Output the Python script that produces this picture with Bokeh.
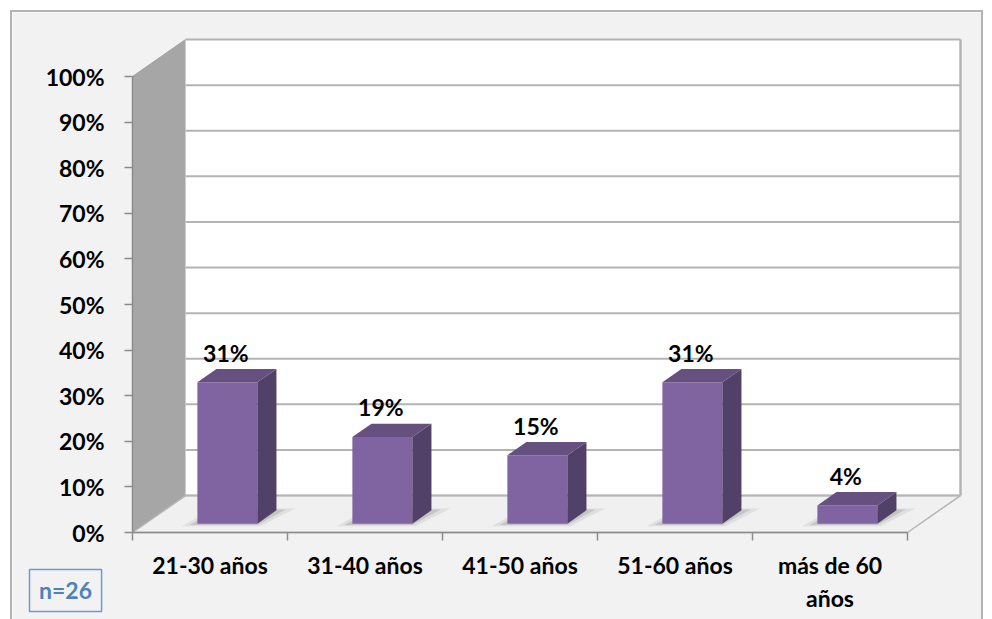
from bokeh.plotting import figure
from bokeh.models import FixedTicker, Range1d, ColumnDataSource
from bokeh.embed import file_html
from bokeh.resources import INLINE
from bokeh.core.properties import value

# ---- data -------------------------------------------------------------
categories = ["21-30 años", "31-40 años", "41-50 años", "51-60 años", "más de 60\naños"]
shares = [31, 19, 15, 31, 4]
y_ticks = [0, 10, 20, 30, 40, 50, 60, 70, 80, 90, 100]
y_tick_labels = ["0%", "10%", "20%", "30%", "40%", "50%", "60%", "70%", "80%", "90%", "100%"]
value_labels = ["31%", "19%", "15%", "31%", "4%"]
sample_note = "n=26"

# ---- 3D projection settings (data units) -------------------------------
DX = 0.342        # depth offset along x, in category units
DY = 8.1          # depth offset along y, in percent units
BAR_W = 0.387     # bar width, category units
BAR_C = 0.53      # bar centre within its category slot
F0, F1 = 0.24, 0.60  # bar front / back position within the depth

FONT = "Lato"
FS = "23px"
n = len(categories)

# canvas size and the data window it shows (155 px per category, 4.56 px per %)
W, H = 973, 609
X0 = -120 / 155
Y1 = 520 / 4.56

# the plotting area fills the whole canvas; axes sit at fixed data positions
p = figure(
    width=W, height=H,
    x_range=Range1d(X0, X0 + W / 155), y_range=Range1d(Y1 - H / 4.56, Y1),
    output_backend="svg", toolbar_location=None,
    min_border=0, min_border_left=0, min_border_right=0,
    min_border_top=0, min_border_bottom=0,
    background_fill_color="#f2f2f2", border_fill_color="#f2f2f2",
    outline_line_color=None,
)
p.styles = {
    "margin-left": "10px", "margin-top": "10px",
    "border-top": "2px solid #b4b4b4", "border-left": "2px solid #b4b4b4",
    "border-right": "2px solid #b4b4b4", "border-bottom": "none",
}
p.xgrid.visible = False
p.ygrid.visible = False

# ---- walls and floor --------------------------------------------------
p.patch([0, DX, DX, 0], [0, DY, 100 + DY, 100],
        fill_color="#a6a6a6", line_color="#a0a0a0", line_width=1)
p.quad(left=[DX], right=[n + DX], bottom=[DY], top=[100 + DY],
       fill_color="white", line_color=None)
p.patch([0, DX, n + DX, n], [0, DY, DY, 0],
        fill_color="#f0f0f0", line_color="#b4b4b4", line_width=1.5)
grid_src = ColumnDataSource(dict(
    x0=[DX] * len(y_ticks), x1=[n + DX] * len(y_ticks),
    y=[t + DY for t in y_ticks],
))
p.segment(x0="x0", y0="y", x1="x1", y1="y", source=grid_src,
          line_color="#b4b4b4", line_width=2)
p.segment(x0=[n + DX], y0=[DY], x1=[n + DX], y1=[100 + DY],
          line_color="#b4b4b4", line_width=2.5)

# ---- bars -------------------------------------------------------------
ddx = (F1 - F0) * DX
ddy = (F1 - F0) * DY
lefts, rights, bottoms, tops = [], [], [], []
top_xs, top_ys, side_xs, side_ys, sh_xs, sh_ys, sh2_xs, sh2_ys = [], [], [], [], [], [], [], []
label_x, label_y = [], []
for i, v in enumerate(shares):
    l = i + BAR_C - BAR_W / 2 + F0 * DX
    r = l + BAR_W
    b = F0 * DY
    t = b + v
    lefts.append(l); rights.append(r); bottoms.append(b); tops.append(t)
    top_xs.append([l, r, r + ddx, l + ddx]); top_ys.append([t, t, t + ddy, t + ddy])
    side_xs.append([r, r + ddx, r + ddx, r]); side_ys.append([b, b + ddy, t + ddy, t])
    # soft shadow on the floor
    sh_xs.append([l - 0.10, r + 0.02, r + ddx + 0.12, l + ddx - 0.02])
    sh_ys.append([b - 0.6, b - 0.6, b + ddy + 0.4, b + ddy + 0.4])
    sh2_xs.append([l - 0.05, r, r + ddx + 0.06, l + ddx])
    sh2_ys.append([b - 0.3, b - 0.3, b + ddy + 0.2, b + ddy + 0.2])
    label_x.append((l + r) / 2 - 0.01)
    label_y.append(t + 3.4)

p.patches(sh_xs, sh_ys, fill_color="#808080", fill_alpha=0.15, line_color=None)
p.patches(sh2_xs, sh2_ys, fill_color="#606060", fill_alpha=0.2, line_color=None)
p.quad(left=lefts, right=rights, bottom=bottoms, top=tops,
       fill_color="#8064a2", line_color=None)
p.patches(side_xs, side_ys, fill_color="#514068", line_color=None)
p.patches(top_xs, top_ys, fill_color="#65507f", line_color=None)

p.text(x=label_x, y=label_y, text=value_labels,
       text_font=value(FONT), text_font_style="bold", text_font_size=FS,
       text_color="black", text_align="center", text_baseline="bottom")

# ---- sample size note (boxed) ------------------------------------------
NOTE_X, NOTE_Y = -0.432, -12.7
p.rect(x=[NOTE_X], y=[NOTE_Y], width=0.465, height=9.2,
       fill_color="#f2f2f2", line_color="#6b9bd6", line_width=1.5)
p.text(x=[NOTE_X], y=[NOTE_Y], text=[sample_note],
       text_font=value(FONT), text_font_style="bold", text_font_size=FS,
       text_color="#4f81bd", text_align="center", text_baseline="middle")

# ---- axes -------------------------------------------------------------
ya = p.yaxis[0]
ya.fixed_location = 0
ya.ticker = FixedTicker(ticks=y_ticks, minor_ticks=[])
ya.major_label_overrides = {t: s for t, s in zip(y_ticks, y_tick_labels)}
ya.bounds = (0, 100)
ya.axis_line_color = "#8c8c8c"
ya.axis_line_width = 1.5
ya.major_tick_line_color = "#8c8c8c"
ya.major_tick_line_width = 1.5
ya.major_tick_out = 8
ya.major_tick_in = 0
ya.major_label_standoff = 20
ya.major_label_text_font = FONT
ya.major_label_text_font_style = "bold"
ya.major_label_text_font_size = FS
ya.major_label_text_color = "black"

centres = [i + 0.5 for i in range(n)]
xa = p.xaxis[0]
xa.fixed_location = 0
xa.ticker = FixedTicker(ticks=centres, minor_ticks=list(range(n + 1)))
xa.major_label_overrides = {c: s for c, s in zip(centres, categories)}
xa.bounds = (0, n)
xa.axis_line_color = "#8c8c8c"
xa.axis_line_width = 1.5
xa.major_tick_out = 0
xa.major_tick_in = 0
xa.minor_tick_line_color = "#8c8c8c"
xa.minor_tick_line_width = 1.5
xa.minor_tick_out = 8
xa.minor_tick_in = 0
xa.major_label_standoff = 10
xa.major_label_text_font = FONT
xa.major_label_text_font_style = "bold"
xa.major_label_text_font_size = FS
xa.major_label_text_color = "black"
xa.major_label_text_line_height = 1.2

open("out.html", "w").write(file_html(p, INLINE))
